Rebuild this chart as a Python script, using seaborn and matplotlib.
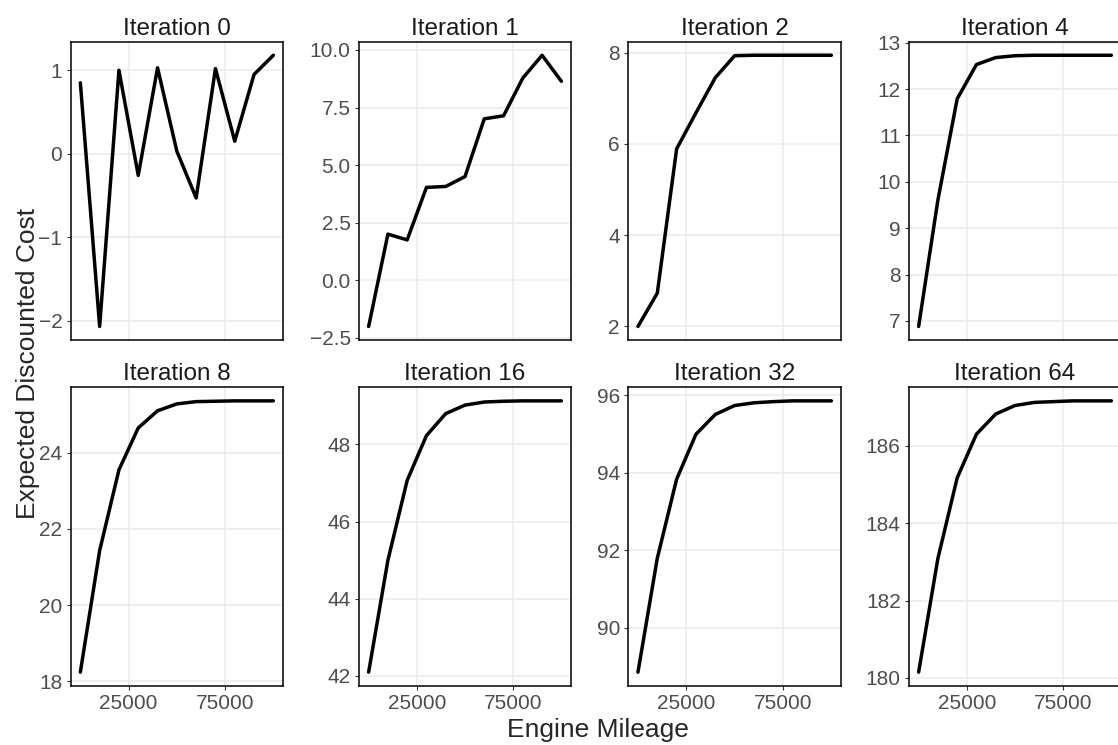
import matplotlib
matplotlib.use("Agg")
import matplotlib.pyplot as plt
import pandas as pd
import seaborn as sns

# engine mileage grid (same for every iteration)
mileage = [0, 10000, 20000, 30000, 40000, 50000, 60000, 70000, 80000, 90000, 100000]

iterations = [0, 1, 2, 4, 8, 16, 32, 64]

cost_it0 = [0.85, -2.07, 1.00, -0.26, 1.03, 0.03, -0.53, 1.02, 0.15, 0.95, 1.18]
cost_it1 = [-2.01, 2.00, 1.75, 4.03, 4.07, 4.50, 7.01, 7.14, 8.78, 9.77, 8.64]
cost_it2 = [2.00, 2.73, 5.89, 6.68, 7.45, 7.93, 7.94, 7.94, 7.94, 7.94, 7.94]
cost_it4 = [6.88, 9.61, 11.79, 12.53, 12.68, 12.72, 12.73, 12.73, 12.73, 12.73, 12.73]
cost_it8 = [18.24, 21.43, 23.55, 24.65, 25.10, 25.28, 25.34, 25.35, 25.36, 25.36, 25.36]
cost_it16 = [42.10, 45.00, 47.07, 48.23, 48.80, 49.02, 49.10, 49.12, 49.13, 49.13, 49.13]
cost_it32 = [88.85, 91.79, 93.83, 94.99, 95.50, 95.73, 95.80, 95.83, 95.85, 95.85, 95.85]
cost_it64 = [180.15, 183.09, 185.17, 186.30, 186.82, 187.04, 187.12, 187.14, 187.16, 187.16, 187.16]

costs = [cost_it0, cost_it1, cost_it2, cost_it4, cost_it8, cost_it16, cost_it32, cost_it64]

y_ticks = [
    [-2, -1, 0, 1],
    [-2.5, 0.0, 2.5, 5.0, 7.5, 10.0],
    [2, 4, 6, 8],
    [7, 8, 9, 10, 11, 12, 13],
    [18, 20, 22, 24],
    [42, 44, 46, 48],
    [90, 92, 94, 96],
    [180, 182, 184, 186],
]
x_ticks = [25000, 75000]

frames = []
for it, c in zip(iterations, costs):
    frames.append(pd.DataFrame({"iteration": it, "mileage": mileage, "cost": c}))
df = pd.concat(frames, ignore_index=True)

sns.set_theme(style="whitegrid")
plt.rcParams["font.family"] = ["Liberation Sans", "DejaVu Sans"]

g = sns.relplot(
    data=df,
    x="mileage",
    y="cost",
    col="iteration",
    col_wrap=4,
    kind="line",
    color="black",
    linewidth=2.5,
    facet_kws=dict(sharey=False, sharex=True),
)
g.set_titles("Iteration {col_name}", size=17.5, color="#1A1A1A", pad=5)
g.set_axis_labels("", "")

fig = g.figure
fig.set_size_inches(11.18, 7.45)
W, H = 1118, 745

# panel edges in pixels (left, right) per column and (top, bottom) per row
cols_px = [(70.7, 283), (359, 571), (628.3, 841), (909, 1121)]
rows_px = [(41.7, 340), (387.3, 685.7)]

for i, ax in enumerate(g.axes.flat):
    r, c = divmod(i, 4)
    l, rt = cols_px[c]
    t, b = rows_px[r]
    ax.set_position([l / W, 1 - b / H, (rt - l) / W, (b - t) / H])
    ax.set_yticks(y_ticks[i])
    if i == 1:
        ax.set_yticklabels([f"{v:.1f}".replace("-", "\u2212") for v in y_ticks[i]])
    ax.set_xticks(x_ticks)
    ax.set_xlim(-5000, 105000)
    ax.grid(True, color="#EBEBEB", linewidth=1.1)
    ax.set_facecolor("white")
    for s in ax.spines.values():
        s.set_visible(True)
        s.set_color("black")
        s.set_linewidth(1.1)
    ax.tick_params(axis="both", which="major", length=3, width=0.8, color="#333333",
                   labelsize=15, labelcolor="#4D4D4D", pad=3,
                   left=True, bottom=True)
    if r == 0:
        ax.tick_params(axis="x", labelbottom=False, bottom=False)

fig.text(0.5345, 0.011, "Engine Mileage", ha="center", va="baseline", fontsize=19)
fig.text(0.025, 0.512, "Expected Discounted Cost", ha="center", va="center",
         rotation=90, fontsize=19)

fig.savefig("out.png", dpi=100)
